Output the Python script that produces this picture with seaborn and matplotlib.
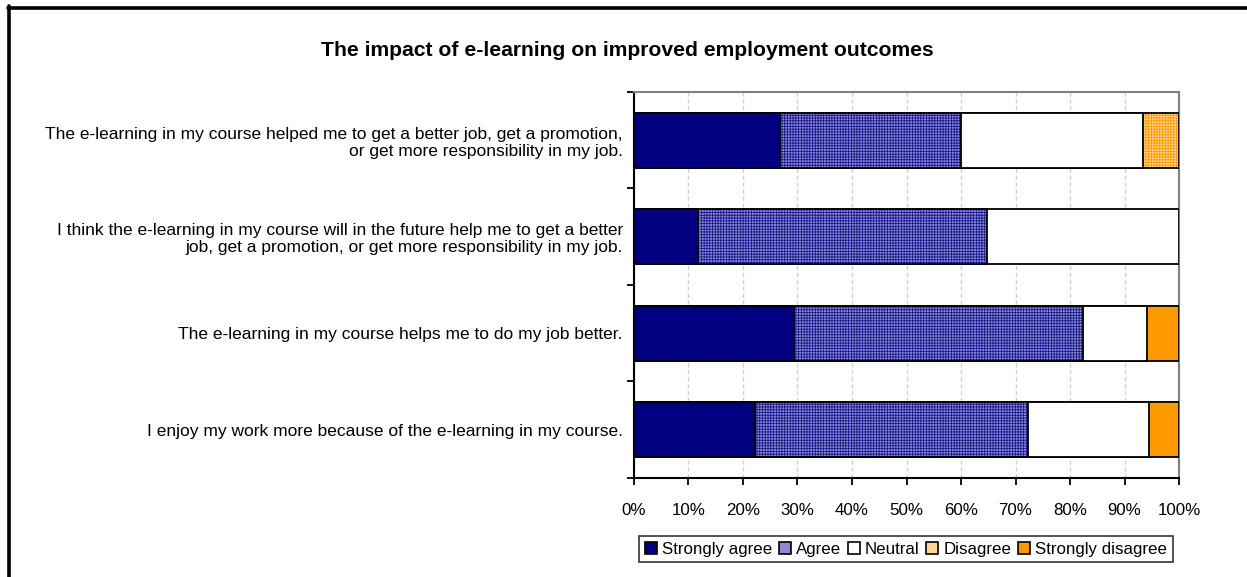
import matplotlib
matplotlib.use("Agg")
import matplotlib.pyplot as plt
from matplotlib.patches import Patch
from matplotlib.lines import Line2D
import seaborn as sns
import pandas as pd
import numpy as np

categories = [
    "The e-learning in my course helped me to get a better job, get a promotion,\nor get more responsibility in my job.",
    "I think the e-learning in my course will in the future help me to get a better\njob, get a promotion, or get more responsibility in my job.",
    "The e-learning in my course helps me to do my job better.",
    "I enjoy my work more because of the e-learning in my course.",
]
series = ["Strongly agree", "Agree", "Neutral", "Disagree", "Strongly disagree"]
strongly_agree = [26.7, 11.8, 29.4, 22.2]
agree = [33.3, 52.9, 52.9, 50.0]
neutral = [33.3, 35.3, 11.8, 22.2]
disagree = [6.7, 0.0, 0.0, 0.0]
strongly_disagree = [0.0, 0.0, 5.9, 5.6]
xticks = [0, 10, 20, 30, 40, 50, 60, 70, 80, 90, 100]

sns.set_theme(style="white")
plt.rcParams["font.family"] = ["Liberation Sans", "DejaVu Sans"]
plt.rcParams["text.color"] = "black"
plt.rcParams["xtick.color"] = "black"
plt.rcParams["ytick.color"] = "black"
plt.rcParams["hatch.linewidth"] = 0.6

face = ["#000080", "#8a8ad2", "#ffffff", "#ffd699", "#ff9900"]
hatches = [None, "++++++", None, "++++++", None]
hatch_cols = [None, "#1a1a90", None, "#ff9900", None]

vals = np.array([strongly_agree, agree, neutral, disagree, strongly_disagree])
cum = np.cumsum(vals, axis=0)

fig = plt.figure(figsize=(12.47, 5.77), dpi=100)
ax = fig.add_axes([0.5084, 0.1716, 0.9455 - 0.5084, 0.8406 - 0.1716])

for i in range(len(series) - 1, -1, -1):
    df = pd.DataFrame({"cat": categories, "val": cum[i]})
    sns.barplot(data=df, x="val", y="cat", orient="y", ax=ax, color=face[i],
                width=0.57, edgecolor="black", linewidth=1.3, saturation=1,
                zorder=3)
    if hatches[i]:
        for p in ax.patches[-len(categories):]:
            p.set_hatch(hatches[i])
            p._hatch_color = matplotlib.colors.to_rgba(hatch_cols[i])
    for p, v in zip(ax.patches[-len(categories):], vals[i]):
        if v <= 0:
            p.set_visible(False)

ax.set_xlim(0, 100)
ax.set_ylim(3.5, -0.5)
ax.set_xticks(xticks)
ax.set_xticklabels([f"{t}%" for t in xticks], fontsize=12.2)
ax.set_yticks([0, 1, 2, 3])
ax.set_yticklabels(categories, fontsize=12.5, multialignment="right", linespacing=1.15)
ax.set_xlabel("")
ax.set_ylabel("")
ax.set_yticks([-0.5, 0.5, 1.5, 2.5, 3.5], minor=True)
ax.tick_params(axis="y", which="major", length=0, pad=8)
ax.tick_params(axis="y", which="minor", length=5, width=1.3, direction="out", color="black", left=True)
ax.tick_params(axis="x", which="major", length=5, width=1.3, direction="out", color="black", bottom=True, pad=13)
ax.xaxis.grid(True, linestyle=(0, (3, 2)), color="#d0d0d0", linewidth=1, zorder=0)
ax.set_axisbelow(True)
for s in ["left", "bottom"]:
    ax.spines[s].set_color("black")
    ax.spines[s].set_linewidth(1.5)
for s in ["top", "right"]:
    ax.spines[s].set_color("#808080")
    ax.spines[s].set_linewidth(1.5)

fig.text(0.503, 0.912, "The impact of e-learning on improved employment outcomes",
         ha="center", va="center", fontsize=15.2, fontweight="bold")

handles = []
for i in range(len(series)):
    h = Patch(facecolor=face[i], edgecolor="black", linewidth=1.2)
    handles.append(h)
leg = fig.legend(handles, series, loc="center", bbox_to_anchor=(0.7265, 0.0485),
                 ncol=5, frameon=True, fontsize=12.2, handlelength=0.7, handleheight=0.7,
                 handletextpad=0.3, columnspacing=0.4, borderpad=0.35, fancybox=False)
leg.get_frame().set_edgecolor("black")
leg.get_frame().set_linewidth(1.2)

fig.add_artist(Line2D([0.0064, 1.0], [0.9870, 0.9870], color="black", linewidth=2.6, transform=fig.transFigure))
fig.add_artist(Line2D([0.0076, 0.0076], [0.0, 0.9893], color="black", linewidth=2.6, transform=fig.transFigure))

fig.savefig("out.png", dpi=100, facecolor="white")
